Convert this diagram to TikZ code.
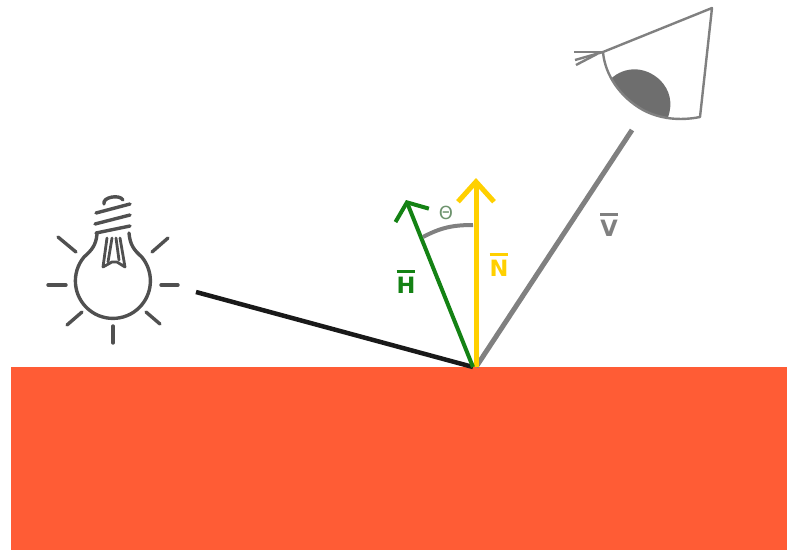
\documentclass[tikz,border=0pt]{standalone}
\usepackage{fontspec}
\setmainfont{DejaVu Sans}
\usetikzlibrary{arrows.meta}
\definecolor{surfacered}{HTML}{FF5C35}
\definecolor{halfgreen}{HTML}{148214}
\definecolor{normalgold}{HTML}{FFD000}
\definecolor{viewgray}{HTML}{808080}
\definecolor{bulbgray}{HTML}{505050}
\definecolor{eyegray}{HTML}{6E6E6E}
\tikzset{
  ray/.style={line width=4.5pt},
  barb/.style={-{Straight Barb[length=20pt,width=36pt,line width=5pt]}},
  thinbarb/.style={-{Straight Barb[length=14pt,width=36pt,line width=4pt]}},
  bulbline/.style={draw=bulbgray, line width=3.4pt, line cap=round, line join=round},
  eyeline/.style={draw=viewgray, line width=2.4pt, line join=round},
  veclabel/.style={font=\fontsize{22.5}{22.5}\selectfont\bfseries, inner sep=0pt},
}
\newcommand{\vecbar}[1]{\vbox{\hrule height 3pt\kern 4.4pt\hbox{#1}}}

\begin{document}
\begin{tikzpicture}[x=1pt,y=-1pt]
    \useasboundingbox (0,0) rectangle (787,550);
    % surface
    \fill[surfacered] (11,367) rectangle (787,550);
    \coordinate (hit) at (473,367);
    \coordinate (hitn) at (476,367);
    \coordinate (lighthit) at (196,292);
    \coordinate (halftip) at (406,200);
    \coordinate (normaltip) at (476,178);
    \coordinate (viewtip) at (632,130);
    \coordinate (arcstart) at (423,237);
    \coordinate (arcend) at (473,225);
    % rays
    \draw[ray, black!90] (lighthit) -- (hit);
    \draw[ray, viewgray, line width=5pt] (hitn) -- (viewtip);
    \draw[ray, normalgold, barb, line width=5pt] (hitn) -- (normaltip);
    \draw[ray, halfgreen, thinbarb, line width=4pt] (hit) -- (halftip);
    \draw[viewgray, line width=4pt] (arcstart) to[out=28,in=180] (arcend);
    % labels
    \node[veclabel, halfgreen] (hlabel) at (406,282) {\vecbar{H}};
    \node[veclabel, normalgold] (nlabel) at (499,265) {\vecbar{N}};
    \node[veclabel, viewgray] (vlabel) at (609,225) {\vecbar{V}};
    \node[font=\fontsize{18}{18}\selectfont, text=viewgray!85!green, inner sep=0pt] (theta) at (446,213) {Θ};
    % light bulb
    \draw[bulbline] (97,234) .. controls (96,245) and (92,250) .. (84,257)
      arc[start angle=219.6, end angle=-39.6, radius=37.5]
      .. controls (134,250) and (130,245) .. (129,233);
    \draw[bulbline] (96,233) -- (130,226);
    \draw[bulbline] (95,224) -- (130,215);
    \draw[bulbline] (96,213) -- (130,204);
    \draw[bulbline] (104,204) .. controls (102,197) and (120,194) .. (123,200);
    \draw[bulbline, line width=2.8pt] (107,238) -- (103,267) -- (112,262) -- (117,262) -- (125,267) -- (120,238);
    \draw[bulbline, line width=2.8pt] (108,262) -- (112,238);
    \draw[bulbline, line width=2.8pt] (119,260) -- (116,238);
    \draw[bulbline] (58,237) -- (76,252);
    \draw[bulbline] (168,238) -- (152,252);
    \draw[bulbline] (48,285) -- (66,285);
    \draw[bulbline] (161,285) -- (178,285);
    \draw[bulbline] (67,325) -- (82,312);
    \draw[bulbline] (146,312) -- (160,324);
    \draw[bulbline] (113,326) -- (113,343);
    % eye
    \fill[eyegray] (611,78.6) .. controls (625,66) and (645,66) .. (660,80)
      .. controls (670,90) and (673,103) .. (668,117.5)
      .. controls (660,116) and (651,114) .. (643,110)
      .. controls (629.2,102.2) and (618.3,91.1) .. cycle;
    \draw[eyeline] (603,52) -- (712,8) -- (700,117)
      .. controls (680,121) and (660,119) .. (643,110)
      .. controls (620,97) and (605,75) .. (603,52);
    \draw[eyeline] (603,52) -- (574,52);
    \draw[eyeline] (603,52) -- (575,60);
    \draw[eyeline] (597,54) -- (576,65);
\end{tikzpicture}
\end{document}
